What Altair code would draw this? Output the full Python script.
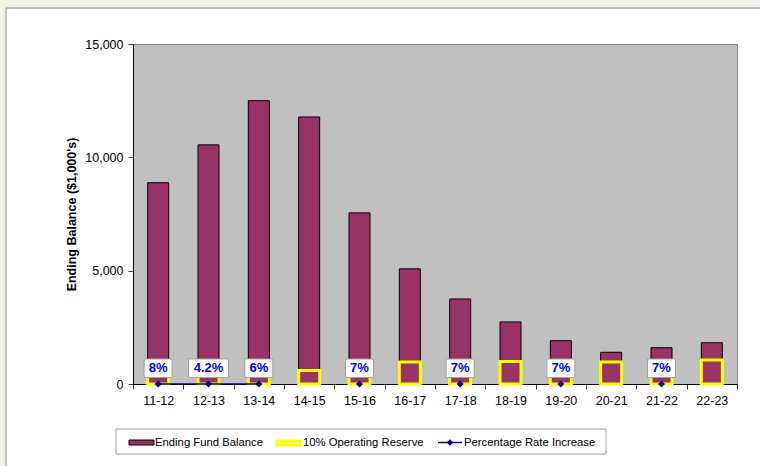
import altair as alt
import pandas as pd

# Fiscal years and the series plotted for each
years = ["11-12", "12-13", "13-14", "14-15", "15-16", "16-17",
         "17-18", "18-19", "19-20", "20-21", "21-22", "22-23"]
ending_balance = [8880, 10550, 12500, 11780, 7550, 5080, 3750, 2740, 1910, 1400, 1600, 1820]
operating_reserve = [850, 880, 900, 600, 950, 970, 980, 990, 1000, 970, 1020, 1060]
rate_increase = [8, 4.2, 6, None, 7, None, 7, None, 7, None, 7, None]
series_names = ["Ending Fund Balance", "10% Operating Reserve", "Percentage Rate Increase"]
y_ticks = [0, 5000, 10000, 15000]

FONT = "Liberation Sans"
MAROON = "#993366"
YELLOW = "#FFFF00"
NAVY = "#000080"
PAGE = "#F2F2E6"

df = pd.DataFrame({
    "year": years,
    "balance": ending_balance,
    "reserve": operating_reserve,
    "rate": rate_increase,
})
df["label"] = [f"{r:g}%" if pd.notna(r) else None for r in rate_increase]

x_enc = alt.X(
    "year:N", sort=years, title=None,
    scale=alt.Scale(paddingInner=0, paddingOuter=0),
    axis=alt.Axis(labelAngle=0, labelFont=FONT, labelFontSize=12.5, labelColor="black",
                  domainColor="black", tickColor="#404040", tickSize=5, tickBand="extent",
                  labelPadding=5),
)

y_scale = alt.Scale(domain=[0, 15000], nice=False)
y_axis = alt.Axis(title="Ending Balance ($1,000's)", values=y_ticks, format=",.0f",
                  grid=False, labelFont=FONT, labelFontSize=12.5, labelColor="black",
                  titleFont=FONT, titleFontSize=12.5, titleFontWeight="bold",
                  titleColor="black", domainColor="black", tickColor="#404040",
                  tickSize=5, labelPadding=5, titlePadding=6)


def y_of(field):
    return alt.Y(field, scale=y_scale, axis=y_axis)


base = alt.Chart(df).encode(x=x_enc)

balance_bars = base.mark_bar(width=21, color=MAROON, stroke="black", strokeWidth=1).encode(
    y=y_of("balance:Q")
)

reserve_boxes = base.mark_bar(width=21, fill="transparent", stroke=YELLOW, strokeWidth=3).encode(
    y=y_of("reserve:Q")
)

rates = base.transform_calculate(
    rate_pos="isValid(datum.rate) ? datum.rate / 100 : null"
)

rate_line = rates.mark_line(color=NAVY, strokeWidth=1.5,
                            invalid="break-paths-show-domains").encode(y=y_of("rate_pos:Q"))

rate_points = rates.transform_filter("isValid(datum.rate)").mark_point(
    shape="diamond", filled=True, color=NAVY, size=50, opacity=1
).encode(y=y_of("rate_pos:Q"))

label_boxes = rates.transform_filter("isValid(datum.rate)").mark_bar(
    width=alt.expr("16 + 6 * length(datum.label)"), fill="white", stroke="#A0A0A0",
    strokeWidth=1, yOffset=-25, y2Offset=-6.5
).encode(y=y_of("rate_pos:Q"), y2="rate_pos:Q")

label_text = rates.transform_filter("isValid(datum.rate)").mark_text(
    font=FONT, fontSize=13, fontWeight="bold", color="#0000FF", dy=-16, baseline="middle"
).encode(y=y_of("rate_pos:Q"), text="label:N")

# Page frame around the chart panel
one = pd.DataFrame({"k": [0]})
frame_top = alt.Chart(one).mark_rect(color=PAGE).encode(
    x=alt.value(-133), x2=alt.value(627), y=alt.value(-44), y2=alt.value(-36))
frame_left = alt.Chart(one).mark_rect(color=PAGE).encode(
    x=alt.value(-133), x2=alt.value(-127), y=alt.value(-44), y2=alt.value(422))
edge_top = alt.Chart(one).mark_rule(color="#A8A8A8", strokeWidth=1.5).encode(
    x=alt.value(-127), x2=alt.value(627), y=alt.value(-36))
edge_left = alt.Chart(one).mark_rule(color="#A8A8A8", strokeWidth=1.5).encode(
    x=alt.value(-127), y=alt.value(-36), y2=alt.value(422))

# Legend below the plot
legend_box = alt.Chart(one).mark_rect(fill="white", stroke="#A0A0A0", strokeWidth=1).encode(
    x=alt.value(-17), x2=alt.value(473), y=alt.value(385), y2=alt.value(410))
leg_bar = alt.Chart(one).mark_rect(fill=MAROON, stroke="black", strokeWidth=1).encode(
    x=alt.value(-4), x2=alt.value(21), y=alt.value(396), y2=alt.value(401))
leg_reserve = alt.Chart(one).mark_rect(fill="white", stroke=YELLOW, strokeWidth=3).encode(
    x=alt.value(144), x2=alt.value(167), y=alt.value(397), y2=alt.value(401))
leg_line = alt.Chart(one).mark_rule(color=NAVY, strokeWidth=1.5).encode(
    x=alt.value(305), x2=alt.value(329), y=alt.value(398.5))
leg_diamond = alt.Chart(one).mark_point(shape="diamond", filled=True, color=NAVY,
                                        size=40, opacity=1).encode(
    x=alt.value(317), y=alt.value(398.5))


def legend_label(text, xpos):
    return alt.Chart(one).mark_text(
        text=text, font=FONT, fontSize=11.3, color="black", align="left", baseline="middle"
    ).encode(x=alt.value(xpos), y=alt.value(398.5))


legend_texts = [legend_label(n, xp) for n, xp in zip(series_names, [22, 170, 331])]

chart = alt.layer(
    frame_top, frame_left, edge_top, edge_left,
    balance_bars, reserve_boxes, rate_line, rate_points, label_boxes, label_text,
    legend_box, leg_bar, leg_reserve, leg_line, leg_diamond, *legend_texts,
).properties(
    width=604, height=340,
    autosize=alt.AutoSizeParams(type="none"),
    padding={"left": 133, "top": 44, "right": 23, "bottom": 82},
    background="white",
).configure_view(
    fill="#C0C0C0", stroke="#808080", strokeWidth=1
)

chart.save("out.html", embed_options={"renderer": "svg", "actions": False})
